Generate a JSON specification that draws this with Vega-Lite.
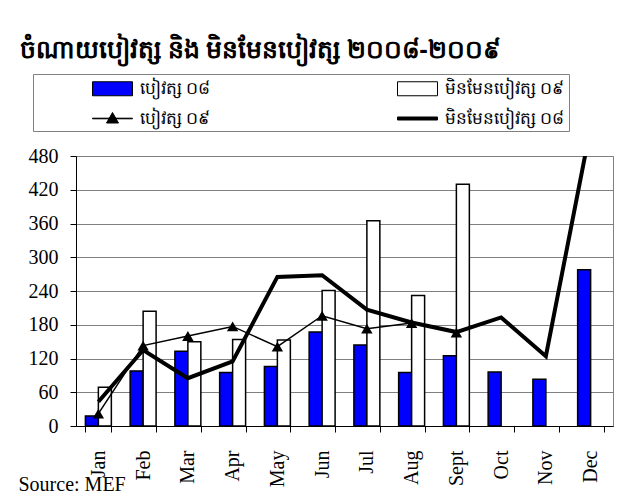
{
  "$schema": "https://vega.github.io/schema/vega-lite/v6.json",
  "width": 537,
  "height": 270,
  "autosize": "none",
  "padding": {"left": 76, "top": 156, "right": 29, "bottom": 78},
  "background": "white",
  "title": {
    "text": "ចំណាយបៀវត្ស និង មិនមែនបៀវត្ស ២០០៨-២០០៩",
    "anchor": "start",
    "frame": "group",
    "dx": -56,
    "offset": 11,
    "font": "Noto Sans",
    "fontSize": 25,
    "fontWeight": "bold",
    "color": "black"
  },
  "data": {
    "values": [
      {"month": "Jan", "series": "បៀវត្ស ០៨", "value": 18},
      {"month": "Feb", "series": "បៀវត្ស ០៨", "value": 98},
      {"month": "Mar", "series": "បៀវត្ស ០៨", "value": 133},
      {"month": "Apr", "series": "បៀវត្ស ០៨", "value": 95},
      {"month": "May", "series": "បៀវត្ស ០៨", "value": 106},
      {"month": "Jun", "series": "បៀវត្ស ០៨", "value": 167},
      {"month": "Jul", "series": "បៀវត្ស ០៨", "value": 144},
      {"month": "Aug", "series": "បៀវត្ស ០៨", "value": 95},
      {"month": "Sept", "series": "បៀវត្ស ០៨", "value": 125},
      {"month": "Oct", "series": "បៀវត្ស ០៨", "value": 96},
      {"month": "Nov", "series": "បៀវត្ស ០៨", "value": 83},
      {"month": "Dec", "series": "បៀវត្ស ០៨", "value": 278},
      {"month": "Jan", "series": "មិនមែនបៀវត្ស ០៩", "value": 69},
      {"month": "Feb", "series": "មិនមែនបៀវត្ស ០៩", "value": 204},
      {"month": "Mar", "series": "មិនមែនបៀវត្ស ០៩", "value": 150},
      {"month": "Apr", "series": "មិនមែនបៀវត្ស ០៩", "value": 154},
      {"month": "May", "series": "មិនមែនបៀវត្ស ០៩", "value": 153},
      {"month": "Jun", "series": "មិនមែនបៀវត្ស ០៩", "value": 241},
      {"month": "Jul", "series": "មិនមែនបៀវត្ស ០៩", "value": 365},
      {"month": "Aug", "series": "មិនមែនបៀវត្ស ០៩", "value": 232},
      {"month": "Sept", "series": "មិនមែនបៀវត្ស ០៩", "value": 430},
      {"month": "Jan", "series": "បៀវត្ស ០៩", "value": 22},
      {"month": "Feb", "series": "បៀវត្ស ០៩", "value": 143},
      {"month": "Mar", "series": "បៀវត្ស ០៩", "value": 160},
      {"month": "Apr", "series": "បៀវត្ស ០៩", "value": 177},
      {"month": "May", "series": "បៀវត្ស ០៩", "value": 141},
      {"month": "Jun", "series": "បៀវត្ស ០៩", "value": 196},
      {"month": "Jul", "series": "បៀវត្ស ០៩", "value": 173},
      {"month": "Aug", "series": "បៀវត្ស ០៩", "value": 183},
      {"month": "Sept", "series": "បៀវត្ស ០៩", "value": 166},
      {"month": "Jan", "series": "មិនមែនបៀវត្ស ០៨", "value": 43},
      {"month": "Feb", "series": "មិនមែនបៀវត្ស ០៨", "value": 135},
      {"month": "Mar", "series": "មិនមែនបៀវត្ស ០៨", "value": 85},
      {"month": "Apr", "series": "មិនមែនបៀវត្ស ០៨", "value": 115},
      {"month": "May", "series": "មិនមែនបៀវត្ស ០៨", "value": 265},
      {"month": "Jun", "series": "មិនមែនបៀវត្ស ០៨", "value": 268},
      {"month": "Jul", "series": "មិនមែនបៀវត្ស ០៨", "value": 207},
      {"month": "Aug", "series": "មិនមែនបៀវត្ស ០៨", "value": 184},
      {"month": "Sept", "series": "មិនមែនបៀវត្ស ០៨", "value": 167},
      {"month": "Oct", "series": "មិនមែនបៀវត្ស ០៨", "value": 193},
      {"month": "Nov", "series": "មិនមែនបៀវត្ស ០៨", "value": 124},
      {"month": "Dec", "series": "មិនមែនបៀវត្ស ០៨", "value": 531}
    ]
  },
  "encoding": {
    "x": {
      "field": "month",
      "type": "nominal",
      "sort": ["Jan", "Feb", "Mar", "Apr", "May", "Jun", "Jul", "Aug", "Sept", "Oct", "Nov", "Dec"],
      "scale": {"paddingInner": 0.42, "paddingOuter": 0.21},
      "axis": {
        "labelAngle": 270,
        "labelAlign": "right",
        "labelBaseline": "middle",
        "labelPadding": 18,
        "labelFont": "Liberation Serif",
        "labelFontSize": 20,
        "tickSize": 6,
        "tickBand": "extent",
        "grid": false,
        "title": "Source: MEF",
        "titleX": -58,
        "titleY": 64,
        "titleAlign": "left",
        "titleBaseline": "alphabetic",
        "titleFont": "Liberation Serif",
        "titleFontSize": 20,
        "titleFontWeight": "normal",
        "titleColor": "black"
      }
    },
    "y": {
      "field": "value",
      "type": "quantitative",
      "scale": {"domain": [0, 480], "nice": false},
      "axis": {
        "values": [0, 60, 120, 180, 240, 300, 360, 420, 480],
        "title": null,
        "labelFont": "Liberation Serif",
        "labelFontSize": 20,
        "tickSize": 6,
        "labelPadding": 12,
        "grid": true,
        "gridColor": "#808080",
        "gridOpacity": 1
      }
    }
  },
  "layer": [
    {
      "transform": [{"filter": {"field": "series", "oneOf": ["បៀវត្ស ០៨", "មិនមែនបៀវត្ស ០៩"]}}],
      "mark": {"type": "bar", "stroke": "black", "strokeWidth": 1.5},
      "encoding": {
        "xOffset": {"field": "series", "type": "nominal", "sort": ["បៀវត្ស ០៨", "មិនមែនបៀវត្ស ០៩"]},
        "color": {
          "field": "series",
          "type": "nominal",
          "scale": {
            "domain": ["បៀវត្ស ០៨", "មិនមែនបៀវត្ស ០៩", "បៀវត្ស ០៩", "មិនមែនបៀវត្ស ០៨"],
            "range": ["#0000ff", "#ffffff", "#000000", "#000000"]
          },
          "legend": {
            "title": null,
            "orient": "none",
            "legendX": -43,
            "legendY": -82,
            "direction": "horizontal",
            "columns": 2,
            "columnPadding": 131,
            "rowPadding": 10,
            "padding": 4,
            "strokeColor": "#808080",
            "fillColor": "white",
            "symbolSize": 400,
            "symbolOffset": 65,
            "labelOffset": 17,
            "symbolStrokeColor": "black",
            "symbolStrokeWidth": 1,
            "symbolOpacity": 1,
            "labelFont": "Noto Sans",
            "labelFontSize": 17,
            "labelColor": "black",
            "labelLimit": 300,
            "encode": {
              "symbols": {
                "update": {
                  "shape": {"signal": "(datum.value === 'បៀវត្ស ០៨' || datum.value === 'មិនមែនបៀវត្ស ០៩') ? 'M-2,-0.7H2V0.7H-2Z' : (datum.value === 'បៀវត្ស ០៩' ? 'M-2,-0.03H2V0.03H-2ZM0,-0.6L0.6,0.45H-0.6Z' : 'M-2,-0.15H2V0.15H-2Z')"},
                  "stroke": {"value": "black"},
                  "strokeWidth": {"value": 1},
                  "opacity": {"value": 1}
                }
              }
            }
          }
        }
      }
    },
    {
      "transform": [{"filter": "datum.series === 'មិនមែនបៀវត្ស ០៨'"}],
      "mark": {"type": "line", "color": "black", "strokeWidth": 4, "clip": true},
      "encoding": {}
    },
    {
      "transform": [{"filter": "datum.series === 'បៀវត្ស ០៩'"}],
      "mark": {"type": "line", "color": "black", "strokeWidth": 1.5},
      "encoding": {}
    },
    {
      "transform": [{"filter": "datum.series === 'បៀវត្ស ០៩'"}],
      "mark": {"type": "point", "shape": "triangle-up", "filled": true, "color": "black", "size": 130, "opacity": 1},
      "encoding": {}
    }
  ],
  "config": {
    "view": {"stroke": "#808080", "strokeWidth": 1},
    "axis": {
      "labelColor": "black",
      "domainColor": "black",
      "domainWidth": 1,
      "tickColor": "black",
      "tickWidth": 1
    }
  }
}
